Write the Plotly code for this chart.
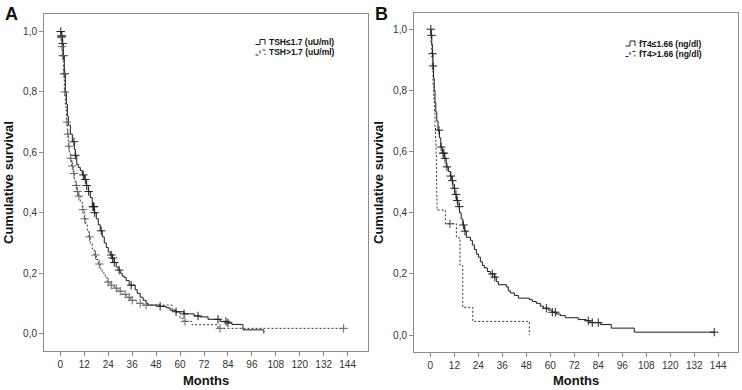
import plotly.graph_objects as go

W, H = 742, 390
FONT = "Liberation Sans, Arial, sans-serif"

# ---------------- Panel A: TSH ----------------
a_low_name = "TSH≤1.7 (uU/ml)"
a_low_t = [0.5, 1.0, 1.5, 2.0, 2.5, 3.0, 3.5, 4.0, 5.0, 6.0, 7.0, 7.5, 8.2, 9.0, 10, 11, 12, 13, 14, 15,
           16, 17, 18, 19, 20, 21, 22, 23, 24, 25, 26, 27, 28, 29, 30, 31, 32, 33, 34.5, 37.5,
           38.5, 40, 41.5, 43, 44, 50, 53, 55, 58, 62, 67, 70, 74, 80, 84, 86, 91.5, 102]
a_low_s = [0.985, 0.96, 0.92, 0.86, 0.80, 0.76, 0.72, 0.69, 0.66, 0.635, 0.61, 0.59, 0.56, 0.55, 0.54, 0.525, 0.51, 0.49, 0.47, 0.45,
           0.42, 0.40, 0.38, 0.36, 0.34, 0.32, 0.30, 0.285, 0.27, 0.26, 0.25, 0.235, 0.22, 0.21, 0.20, 0.19, 0.185, 0.175, 0.16, 0.145,
           0.133, 0.12, 0.11, 0.10, 0.094, 0.09, 0.085, 0.077, 0.072, 0.065, 0.058, 0.055, 0.047, 0.04, 0.035, 0.03, 0.012, 0.0]
a_low_cens = [0.2, 0.5, 0.8, 1.2, 1.6, 2.2, 6.8, 7.5, 11.5, 12.5, 13.2, 14.2, 16.3, 16.6, 16.9, 17.2, 20.5,
              25.5, 26.2, 27, 29.5, 35.5, 50, 58, 62, 69, 79, 83, 84]

a_high_name = "TSH>1.7 (uU/ml)"
a_high_t = [0.3, 0.7, 1.0, 1.5, 2.0, 2.5, 3.0, 3.5, 4.0, 4.5, 5.0, 5.7, 6.5, 7.0, 7.5, 8.2, 9.0, 10, 11, 12,
            12.7, 13.5, 14.3, 15, 16, 17, 18, 19, 20, 21, 22.5, 23.5, 25, 27, 29, 31, 33, 35, 38, 41,
            56, 57, 60, 62, 66, 79]
a_high_s = [0.98, 0.95, 0.92, 0.86, 0.80, 0.75, 0.70, 0.66, 0.62, 0.60, 0.58, 0.555, 0.53, 0.51, 0.49, 0.47, 0.455, 0.435, 0.41, 0.38,
            0.36, 0.34, 0.32, 0.30, 0.28, 0.26, 0.245, 0.23, 0.215, 0.20, 0.185, 0.17, 0.16, 0.15, 0.14, 0.13, 0.12, 0.11, 0.10, 0.094,
            0.08, 0.07, 0.05, 0.04, 0.029, 0.017]
a_high_cens = [0.4, 0.8, 1.2, 1.8, 2.2, 3.3, 3.8, 4.3, 5.2, 6, 6.8, 8.0, 8.6, 9.3, 11.3, 12.2, 14.6, 17.6, 19.5,
               24, 25.5, 28, 30, 32.5, 34.5, 36, 40, 43, 62.5, 80, 142]

# ---------------- Panel B: fT4 ----------------
b_low_name = "fT4≤1.66 (ng/dl)"
b_low_t = [0.3, 0.7, 1.0, 1.3, 1.6, 1.9, 2.3, 2.7, 3.2, 3.8, 4.5, 5.2, 6.0, 6.9, 7.9, 9.0, 10, 10.7, 11.3, 12.2,
           13, 13.8, 14.6, 15.4, 16.2, 17, 18, 20, 21, 22, 23, 24, 25, 26, 27, 28.5, 30, 32, 33, 34,
           38, 39, 40, 42, 44, 49.5, 51, 53, 55, 56.5, 59, 61, 63, 65, 67.5, 74, 78, 80, 85, 90.5, 102]
b_low_s = [0.98, 0.95, 0.92, 0.88, 0.84, 0.80, 0.76, 0.73, 0.70, 0.67, 0.645, 0.615, 0.595, 0.578, 0.55, 0.535, 0.52, 0.505, 0.48, 0.46,
           0.44, 0.42, 0.40, 0.38, 0.36, 0.34, 0.32, 0.31, 0.295, 0.28, 0.265, 0.255, 0.24, 0.228, 0.22, 0.208, 0.20, 0.19, 0.175, 0.165,
           0.158, 0.145, 0.138, 0.13, 0.121, 0.116, 0.11, 0.104, 0.095, 0.088, 0.082, 0.075, 0.069, 0.064, 0.057, 0.051, 0.047, 0.041, 0.035, 0.023, 0.0098]
b_low_cens = [0.2, 0.6, 1.1, 1.4, 4.3, 5.4, 6.3, 6.8, 7.3, 8.3, 10.2, 11, 12.1, 12.8, 13.5, 14.5, 16.5, 17.3,
              31, 32.2, 58, 61, 62.5, 79, 81, 84, 142]

b_high_name = "fT4>1.66 (ng/dl)"
b_high_t = [0.3, 0.7, 1.0, 1.3, 1.7, 2.0, 2.3, 2.6, 2.8, 3.0, 3.1, 3.2, 3.3, 7.5, 13, 14.8, 16.2, 21.2, 49.5]
b_high_s = [0.955, 0.909, 0.864, 0.818, 0.773, 0.727, 0.682, 0.636, 0.591, 0.545, 0.5, 0.455, 0.409, 0.364, 0.318, 0.227, 0.091, 0.045, 0.0]
b_high_cens = [9.8]

x_ticks = [0, 12, 24, 36, 48, 60, 72, 84, 96, 108, 120, 132, 144]
y_ticks = [0.0, 0.2, 0.4, 0.6, 0.8, 1.0]
y_ticktext = ["0,0", "0,2", "0,4", "0,6", "0,8", "1,0"]
panel_labels = ["A", "B"]
x_title = "Months"
y_title = "Cumulative survival"


def step_xy(times, surv, cens):
    xs = [0.0] + list(times)
    ys = [1.0] + list(surv)
    end = max([times[-1]] + list(cens))
    if end > xs[-1]:
        xs.append(end)
        ys.append(ys[-1])
    return xs, ys


def surv_at(times, surv, t):
    s = 1.0
    for ti, si in zip(times, surv):
        if ti <= t:
            s = si
        else:
            break
    return s


def px(x):
    return x / W


def py(y):
    return 1 - y / H


fig = go.Figure()

curves = [
    ("x", "y", a_low_t, a_low_s, a_low_cens, "solid", "#1a1a1a", "#222222"),
    ("x", "y", a_high_t, a_high_s, a_high_cens, "2px,2px", "#333333", "#666666"),
    ("x2", "y2", b_low_t, b_low_s, b_low_cens, "solid", "#1a1a1a", "#222222"),
    ("x2", "y2", b_high_t, b_high_s, b_high_cens, "2px,2px", "#333333", "#444444"),
]
for xa, ya, t, s, c, dash, lc, mc in curves:
    xs, ys = step_xy(t, s, c)
    fig.add_trace(go.Scatter(x=xs, y=ys, mode="lines", xaxis=xa, yaxis=ya,
                             line=dict(shape="hv", color=lc, width=1, dash=dash),
                             hoverinfo="skip"))
    cy = [surv_at(t, s, ct) for ct in c]
    fig.add_trace(go.Scatter(x=c, y=cy, mode="markers", xaxis=xa, yaxis=ya,
                             marker=dict(symbol="cross-thin", size=6,
                                         line=dict(width=1, color=mc), color=mc),
                             hoverinfo="skip"))

axis_common = dict(showgrid=False, zeroline=False, showline=True, mirror=True,
                   linecolor="#8c8c8c", linewidth=1, ticks="outside", ticklen=4,
                   tickcolor="#8c8c8c", tickfont=dict(family=FONT, size=10, color="#333333"))

fig.update_layout(
    width=W, height=H, margin=dict(l=0, r=0, t=0, b=0),
    paper_bgcolor="white", plot_bgcolor="white", showlegend=False,
    font=dict(family=FONT),
    xaxis=dict(domain=[px(44), px(368)], range=[-8.2, 154.2], tickvals=x_ticks,
               anchor="y", **axis_common),
    yaxis=dict(domain=[py(351), py(14)], range=[-0.058, 1.058], tickvals=y_ticks,
               ticktext=y_ticktext, anchor="x", **axis_common),
    xaxis2=dict(domain=[px(414), px(738)], range=[-8.2, 153.9], tickvals=x_ticks,
                anchor="y2", **axis_common),
    yaxis2=dict(domain=[py(352), py(13.3)], range=[-0.055, 1.052], tickvals=y_ticks,
                ticktext=y_ticktext, anchor="x2", **axis_common),
)

annotations = []
# panel letters
for lab, x0 in zip(panel_labels, [3, 373]):
    annotations.append(dict(text="<b>%s</b>" % lab, x=px(x0), y=py(2), xref="paper", yref="paper",
                            xanchor="left", yanchor="top", showarrow=False,
                            font=dict(family=FONT, size=18, color="#111111")))
# axis titles
for cx, tx in [(206, 8), (576, 378)]:
    annotations.append(dict(text="<b>%s</b>" % x_title, x=px(cx), y=py(380), xref="paper", yref="paper",
                            xanchor="center", yanchor="middle", showarrow=False,
                            font=dict(family=FONT, size=13, color="#111111")))
    annotations.append(dict(text="<b>%s</b>" % y_title, x=px(tx), y=py(183), xref="paper", yref="paper",
                            xanchor="center", yanchor="middle", showarrow=False, textangle=-90,
                            font=dict(family=FONT, size=13, color="#111111")))
# legends
shapes = []
legend_specs = [
    (266, 42, a_low_name, "solid"), (266, 52.5, a_high_name, "dot"),
    (636, 43.5, b_low_name, "solid"), (636, 54, b_high_name, "dot"),
]
for lx, ly, name, dash in legend_specs:
    annotations.append(dict(text="<b>%s</b>" % name, x=px(lx + 1), y=py(ly), xref="paper", yref="paper",
                            xanchor="left", yanchor="middle", showarrow=False,
                            font=dict(family=FONT, size=8.5, color="#111111")))
    x0, x1, x2 = lx - 10.5, lx - 6, lx - 1
    yb, yt = ly + 2.5, ly - 2.5
    path = "M %f,%f L %f,%f L %f,%f L %f,%f L %f,%f" % (
        px(x0), py(yb), px(x1), py(yb), px(x1), py(yt), px(x2), py(yt), px(x2), py(yb))
    shapes.append(dict(type="path", path=path, xref="paper", yref="paper",
                       line=dict(color="#222222", width=1, dash=dash)))

fig.update_layout(annotations=annotations, shapes=shapes)
fig.write_html("out.html", config={"displayModeBar": False},
               post_script="document.body.style.margin='0';document.body.style.overflow='hidden';")
